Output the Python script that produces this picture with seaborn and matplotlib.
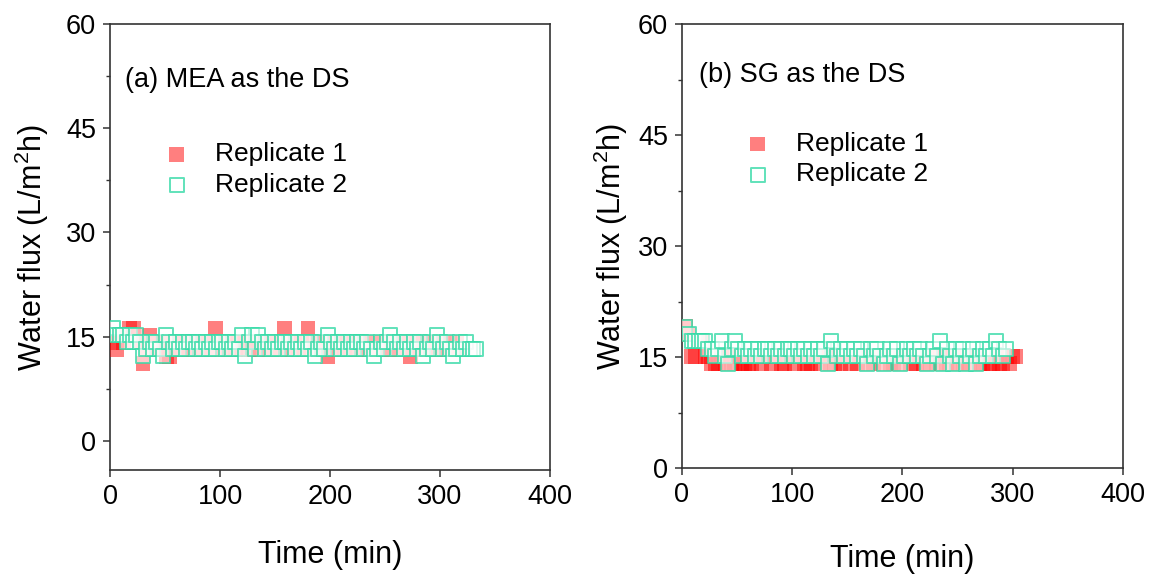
import matplotlib
matplotlib.use("Agg")
import matplotlib.pyplot as plt
from matplotlib.ticker import MultipleLocator
import seaborn as sns
import pandas as pd

# ---------------- data ----------------
time_step = 3  # min between readings
panel_titles = ["(a) MEA as the DS", "(b) SG as the DS"]
series_labels = ["Replicate 1", "Replicate 2"]
x_ticks = [0, 100, 200, 300, 400]
y_ticks = [0, 15, 30, 45, 60]

mea_rep1 = [14.2, 13.2, 15.2, 14.2, 15.2, 16.2, 16.2, 15.2, 14.2, 11.1,
            13.2, 15.2, 13.2, 14.2, 13.2, 14.2, 12.2, 12.2, 13.2, 14.2,
            13.2, 14.2, 13.2, 13.2, 14.2, 13.2, 14.2, 13.2, 14.2, 13.2,
            14.2, 16.2, 14.2, 13.2, 14.2, 13.2, 14.2, 13.2, 14.2, 13.2,
            14.2, 13.2, 14.2, 13.2, 13.2, 14.2, 13.2, 14.2, 13.2, 14.2,
            13.2, 14.2, 16.2, 13.2, 13.2, 14.2, 13.2, 14.2, 13.2, 16.2,
            14.2, 13.2, 14.2, 13.2, 14.2, 12.2, 13.2, 14.2, 13.2, 14.2,
            13.2, 14.2, 13.2, 14.2, 13.2, 14.2, 13.2, 14.2, 13.2, 14.2,
            13.2, 14.2, 13.2, 14.2, 13.2, 14.2, 13.2, 14.2, 13.2, 14.2,
            12.2, 13.2, 14.2, 13.2, 14.2, 13.2, 14.2, 13.2, 14.2, 13.2,
            14.2, 13.2, 14.2, 13.2, 14.2, 13.2]

mea_rep2 = [16.2, 15.2, 15.2, 15.2, 14.2, 15.2, 14.2, 15.2, 14.2, 12.2,
            13.2, 14.2, 13.2, 14.2, 13.2, 12.2, 15.2, 14.2, 13.2, 14.2,
            13.2, 14.2, 13.2, 14.2, 14.2, 13.2, 14.2, 13.2, 14.2, 13.2,
            14.2, 13.2, 14.2, 14.2, 13.2, 14.2, 13.2, 14.2, 13.2, 15.2,
            12.2, 14.2, 15.2, 13.2, 15.2, 14.2, 13.2, 14.2, 13.2, 14.2,
            13.2, 14.2, 14.2, 13.2, 14.2, 13.2, 14.2, 13.2, 14.2, 13.2,
            14.2, 12.2, 13.2, 14.2, 13.2, 15.2, 14.2, 13.2, 14.2, 13.2,
            14.2, 13.2, 14.2, 13.2, 14.2, 14.2, 13.2, 14.2, 13.2, 12.2,
            13.2, 14.2, 13.2, 14.2, 15.2, 14.2, 13.2, 14.2, 13.2, 14.2,
            13.2, 14.2, 13.2, 14.2, 12.2, 13.2, 14.2, 13.2, 15.2, 14.2,
            13.2, 14.2, 13.2, 12.2, 13.2, 14.2, 13.2, 14.2, 13.2, 13.2,
            13.2]

sg_rep1 = [19.1, 18.1, 15.1, 15.1, 17.1, 17.1, 15.1, 15.1, 14.1, 14.1,
           14.1, 15.1, 14.1, 15.1, 14.1, 14.1, 15.1, 14.1, 14.1, 14.1,
           14.1, 15.1, 15.1, 14.1, 15.1, 15.1, 14.1, 15.1, 15.1, 14.1,
           14.1, 15.1, 15.1, 14.1, 15.1, 15.1, 14.1, 14.1, 14.1, 15.1,
           15.1, 14.1, 15.1, 15.1, 14.1, 14.1, 15.1, 14.1, 15.1, 15.1,
           14.1, 15.1, 14.1, 15.1, 15.1, 14.1, 15.1, 14.1, 15.1, 15.1,
           14.1, 15.1, 14.1, 14.1, 15.1, 14.1, 15.1, 15.1, 14.1, 15.1,
           14.1, 15.1, 14.1, 15.1, 14.1, 15.1, 14.1, 15.1, 15.1, 14.1,
           14.1, 15.1, 14.1, 15.1, 14.1, 14.1, 14.1, 15.1, 14.1, 14.1,
           14.1, 15.1, 14.1, 14.1, 15.1, 14.1, 14.1, 15.1, 14.1, 15.1,
           15.1]

sg_rep2 = [19.1, 18.1, 17.1, 17.1, 17.1, 17.1, 17.1, 16.1, 16.1, 15.1,
           16.1, 17.1, 15.1, 14.1, 16.1, 17.1, 16.1, 15.1, 16.1, 15.1,
           16.1, 15.1, 16.1, 15.1, 16.1, 16.1, 15.1, 16.1, 15.1, 16.1,
           15.1, 16.1, 16.1, 15.1, 16.1, 15.1, 16.1, 15.1, 16.1, 15.1,
           16.1, 15.1, 16.1, 14.1, 17.1, 16.1, 15.1, 16.1, 15.1, 16.1,
           15.1, 16.1, 15.1, 16.1, 15.1, 14.1, 16.1, 15.1, 16.1, 15.1,
           14.1, 15.1, 16.1, 15.1, 16.1, 14.1, 15.1, 16.1, 15.1, 16.1,
           15.1, 16.1, 15.1, 14.1, 15.1, 16.1, 15.1, 17.1, 14.1, 16.1,
           15.1, 14.1, 16.1, 15.1, 16.1, 14.1, 15.1, 16.1, 14.1, 15.1,
           16.1, 15.1, 16.1, 15.1, 17.1, 16.1, 15.1, 16.1]


def frame(values):
    return pd.DataFrame({"time": [time_step * (i + 1) for i in range(len(values))],
                         "flux": values})


# ---------------- style ----------------
sns.set_theme(style="ticks")
plt.rcParams["font.family"] = ["Liberation Sans", "DejaVu Sans"]
plt.rcParams["mathtext.fontset"] = "custom"
plt.rcParams["mathtext.rm"] = "Liberation Sans"
plt.rcParams["mathtext.it"] = "Liberation Sans:italic"
plt.rcParams["text.color"] = "black"
plt.rcParams["axes.labelcolor"] = "black"
plt.rcParams["xtick.color"] = "black"
plt.rcParams["ytick.color"] = "black"

fig = plt.figure(figsize=(11.52, 5.77), dpi=100)
fig.patch.set_facecolor("white")
ax1 = fig.add_axes([0.0955, 0.1854, 0.3819, 0.7730])
ax2 = fig.add_axes([0.5920, 0.1889, 0.3828, 0.7695])

red = (1.0, 0.0, 0.0)
green_edge = (0.22, 0.86, 0.66, 0.8)
green_face = (1.0, 1.0, 1.0, 0.6)
msize = 115

panels = [
    (ax1, mea_rep1, mea_rep2, (-4.2, 60), panel_titles[0], (0.034, 0.874),
     (0.122, 0.735), 22, 11),
    (ax2, sg_rep1, sg_rep2, (0, 60), panel_titles[1], (0.0385, 0.886),
     (0.142, 0.757), 26, 6),
]

for ax, r1, r2, ylim, title, tpos, lpos, xpad, ypad in panels:
    sns.scatterplot(data=frame(r1), x="time", y="flux", ax=ax, marker="s",
                    s=msize, color=red, alpha=0.5, edgecolor="none",
                    linewidth=0, label=series_labels[0], zorder=3)
    sns.scatterplot(data=frame(r2), x="time", y="flux", ax=ax, marker="s",
                    s=msize, facecolor=green_face, edgecolor=green_edge,
                    linewidth=1.4, label=series_labels[1], zorder=4)
    ax.set_xlim(0, 400)
    ax.set_ylim(*ylim)
    ax.set_xticks(x_ticks)
    ax.set_yticks(y_ticks)
    ax.yaxis.set_minor_locator(MultipleLocator(7.5))
    ax.tick_params(axis="both", which="major", direction="out", length=5,
                   width=1.1, labelsize=19.5, pad=5, color="#333333",
                   labelcolor="black")
    ax.tick_params(axis="y", which="minor", direction="out", length=3,
                   width=1.0, color="#333333")
    for sp in ax.spines.values():
        sp.set_visible(True)
        sp.set_linewidth(1.2)
        sp.set_color("#333333")
    ax.set_xlabel("Time (min)", fontsize=22, labelpad=xpad, color="black")
    ax.set_ylabel(r"Water flux (L/m$^2$h)", fontsize=22, labelpad=ypad,
                  color="black")
    ax.text(tpos[0], tpos[1], title, transform=ax.transAxes, fontsize=19.5,
            ha="left", va="center", color="black")
    leg = ax.legend(loc="upper left", bbox_to_anchor=lpos, frameon=False,
                    fontsize=19, handlelength=1.0, handletextpad=0.95,
                    labelspacing=0.25, borderpad=0, borderaxespad=0,
                    scatterpoints=1, labelcolor="black")
    ax.set_facecolor("white")

fig.savefig("out.png", dpi=100, facecolor="white")
